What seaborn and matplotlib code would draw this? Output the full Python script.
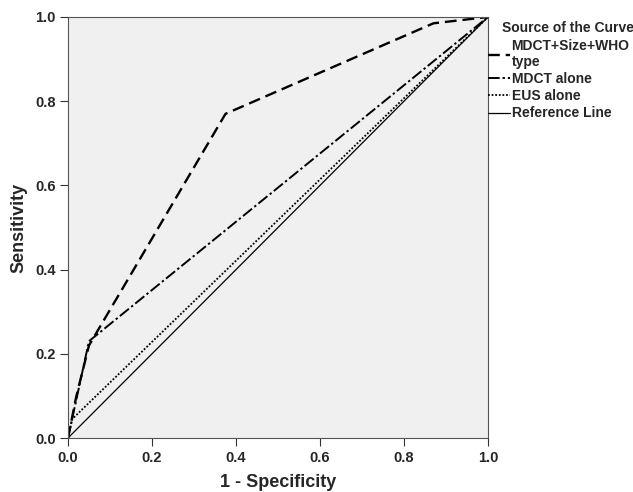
import matplotlib
matplotlib.use("Agg")
import matplotlib.pyplot as plt
import seaborn as sns
import pandas as pd

# Data
combo_x = [0.0, 0.02, 0.05, 0.375, 0.87, 1.0]
combo_y = [0.0, 0.10, 0.22, 0.77, 0.985, 1.0]
mdct_x = [0.0, 0.05, 1.0]
mdct_y = [0.0, 0.23, 1.0]
eus_x = [0.0, 0.01, 1.0]
eus_y = [0.0, 0.045, 1.0]
ref_x = [0.0, 1.0]
ref_y = [0.0, 1.0]
labels = ["MDCT+Size+WHO\ntype", "MDCT alone", "EUS alone", "Reference Line"]
ticks = [0.0, 0.2, 0.4, 0.6, 0.8, 1.0]

sns.set_style("ticks")
plt.rcParams['font.family'] = ['Liberation Sans', 'DejaVu Sans']
plt.rcParams['font.weight'] = 'bold'

W, H = 633, 492
fig = plt.figure(figsize=(W / 100, H / 100), dpi=100)
ax = fig.add_axes([68 / W, 1 - 438 / H, 420 / W, 421 / H])
ax.set_facecolor('#f0f0f0')

series = [
    (combo_x, combo_y, labels[0], dict(linestyle=(0, (5, 2.5)), linewidth=1.7)),
    (mdct_x, mdct_y, labels[1], dict(linestyle=(0, (6, 1.5, 1.2, 1.5)), linewidth=1.4)),
    (eus_x, eus_y, labels[2], dict(linestyle=(0, (1, 1)), linewidth=1.3)),
    (ref_x, ref_y, labels[3], dict(linestyle='-', linewidth=0.9)),
]
for xs, ys, lab, st in series:
    df = pd.DataFrame({'x': xs, 'y': ys})
    sns.lineplot(data=df, x='x', y='y', ax=ax, color='black', sort=False,
                 estimator=None, label=lab, **st)

ax.set_xlim(0, 1)
ax.set_ylim(0, 1)
ax.set_xticks(ticks)
ax.set_yticks(ticks)
ax.set_xticklabels([f"{t:.1f}" for t in ticks], fontsize=10.5, fontweight='bold')
ax.set_yticklabels([f"{t:.1f}" for t in ticks], fontsize=10.5, fontweight='bold')
ax.tick_params(direction='out', length=6, width=0.8, color='#333333', pad=3)
for s in ax.spines.values():
    s.set_color('#555555')
    s.set_linewidth(0.8)
ax.set_xlabel("1 - Specificity", fontsize=13, fontweight='bold', labelpad=7)
ax.set_ylabel("Sensitivity", fontsize=13, fontweight='bold', labelpad=5)

leg = ax.legend(loc='upper left', bbox_to_anchor=(488 / W, 1 - 39 / H),
                bbox_transform=fig.transFigure, frameon=False,
                prop={'weight': 'bold', 'size': 10}, handlelength=1.6,
                handletextpad=0.1, borderaxespad=0.0, labelspacing=0.22,
                borderpad=0.0)
fig.text(502 / W, 1 - 28 / H, "Source of the Curve", fontsize=10,
         fontweight='bold', ha='left', va='center')

fig.savefig("out.png", dpi=100)
